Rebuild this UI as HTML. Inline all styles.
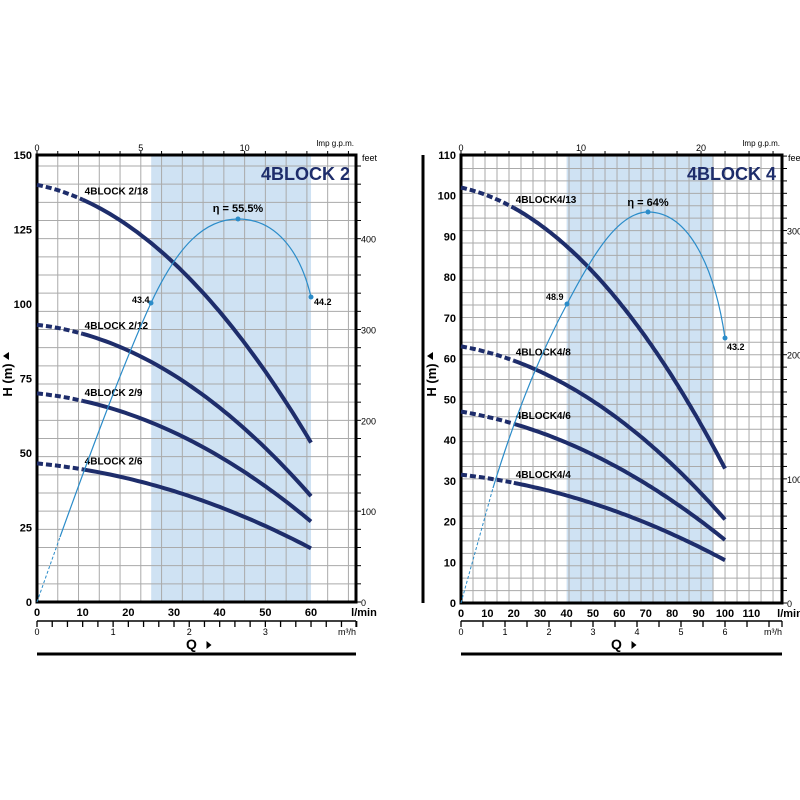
<!DOCTYPE html>
<html><head><meta charset="utf-8">
<style>
html,body{margin:0;padding:0;background:#fff;}
svg{display:block;font-family:"Liberation Sans",sans-serif;}
</style></head><body>
<svg id="s" width="800" height="800" viewBox="0 0 800 800" xmlns="http://www.w3.org/2000/svg"></svg>
<script>
const S=document.getElementById('s');let h='';
const NAVY='#1e2d6b',EFF='#2b8cc9';
function chart(o){
  const X=q=>o.x0+q*o.kx, Y=m=>o.yb-m*o.ky;
  h+=`<rect x="${X(o.sh[0])}" y="${o.yt}" width="${X(o.sh[1])-X(o.sh[0])}" height="${o.yb-o.yt}" fill="#cfe2f3"/>`;
  const g=4.546*o.kx;
  for(let x=o.x0+g;x<o.x1-1;x+=g) h+=`<line x1="${x}" y1="${o.yt}" x2="${x}" y2="${o.yb}" stroke="#aaa" stroke-width="1"/>`;
  const f=o.ftstep*0.3048*o.ky;
  for(let y=o.yb-f;y>o.yt+1;y-=f) h+=`<line x1="${o.x0}" y1="${y}" x2="${o.x1}" y2="${y}" stroke="#aaa" stroke-width="1"/>`;
  h+=`<rect x="${o.x0}" y="${o.yt}" width="${o.x1-o.x0}" height="${o.yb-o.yt}" fill="none" stroke="#000" stroke-width="3"/>`;
  let n=0;for(let y=o.yb;y>o.yt+1;y-=f,n++){h+=`<line x1="${o.x1}" y1="${y}" x2="${o.x1+5}" y2="${y}" stroke="#000" stroke-width="1"/>`;
    const v=n*o.ftstep; if(v%100==0) h+=`<text x="${o.x1+5}" y="${y+4}" font-size="9" font-family="Liberation Sans Narrow,Liberation Sans">${v}</text>`;}
  h+=`<text x="${o.x1+6}" y="${o.yt+6}" font-size="9">feet</text>`;
  for(let i=0;X(i*4.546)<o.x1-2;i+=o.gstep){const x=X(i*4.546);h+=`<line x1="${x}" y1="${o.yt}" x2="${x}" y2="${o.yt-4}" stroke="#000" stroke-width="1"/>`;
    if(i%o.glab==0 && X(i*4.546)<o.x1-30)h+=`<text x="${x}" y="${o.yt-4}" font-size="9" text-anchor="middle">${i}</text>`;}
  h+=`<text x="${o.x1-2}" y="${o.yt-9}" font-size="8" text-anchor="end">Imp g.p.m.</text>`;
  o.yl.forEach(v=>h+=`<text x="${o.x0-5}" y="${Y(v)+4}" font-size="11" font-weight="bold" text-anchor="end">${v}</text>`);
  o.xl.forEach(v=>h+=`<text x="${X(v)}" y="${o.yb+14}" font-size="11" font-weight="bold" text-anchor="middle">${v}</text>`);
  h+=`<text x="${o.x1+8}" y="${o.yb+14}" font-size="11" font-weight="bold" text-anchor="middle">l/min</text>`;
  const my=621;h+=`<line x1="${o.x0}" y1="${my}" x2="${o.x1}" y2="${my}" stroke="#000" stroke-width="1.5"/>`;
  const ms=o.mstep, per=Math.round(1/ms);
  for(let i=0;X(i*ms*16.667)<=o.x1+1;i++){const x=X(i*ms*16.667);h+=`<line x1="${x}" y1="${my}" x2="${x}" y2="${my+6}" stroke="#000" stroke-width="1.3"/>`;
    if(i%per==0 && x<o.x1-25)h+=`<text x="${x}" y="${my+14}" font-size="9" text-anchor="middle">${i/per}</text>`;}
  h+=`<line x1="${o.x1}" y1="${my}" x2="${o.x1}" y2="${my+6}" stroke="#000" stroke-width="1.3"/>`;
  h+=`<text x="${o.x1}" y="${my+14}" font-size="9" text-anchor="end">m³/h</text>`;
  h+=`<text x="${(o.x0+o.x1)/2-5}" y="649" font-size="14" font-weight="bold" text-anchor="middle">Q</text><path d="M${(o.x0+o.x1)/2+10} 641 l5 4 l-5 4z" fill="#000"/>`;
  h+=`<line x1="${o.x0}" y1="654" x2="${o.x1}" y2="654" stroke="#000" stroke-width="3"/>`;
  h+=`<g transform="translate(${o.hx},380) rotate(-90)"><text x="0" y="0" font-size="13" font-weight="bold" text-anchor="middle">H (m)</text><path d="M24 -9 l4 6 h-8z" fill="#000"/></g>`;
  h+=`<text x="${o.x1-6}" y="${o.yt+25}" font-size="18" font-weight="bold" fill="${NAVY}" text-anchor="end">${o.title}</text>`;
  o.curves.forEach(c=>{const [a,b,q2,qd,name]=c;
    const Hq=q=>a - c[5]*q - c[6]*q*q;
    let d='',s='';for(let q=0;q<=qd;q+=1)d+=(q?'L':'M')+X(q).toFixed(1)+' '+Y(Hq(q)).toFixed(1);
    for(let q=qd;q<=q2+0.01;q+=1)s+=(q==qd?'M':'L')+X(q).toFixed(1)+' '+Y(Hq(q)).toFixed(1);
    h+=`<path d="${d}" fill="none" stroke="${NAVY}" stroke-width="4" stroke-dasharray="6 3"/>`;
    h+=`<path d="${s}" fill="none" stroke="${NAVY}" stroke-width="4"/>`;
    h+=`<text x="${X(qd)+2}" y="${Y(Hq(qd))-5}" font-size="10" font-weight="bold" font-family="Liberation Sans Narrow,Liberation Sans">${name}</text>`;});
  const e=o.eff;
  h+=`<path d="M${o.x0} ${o.yb} L${e.d[0]} ${e.d[1]}" stroke="${EFF}" stroke-width="1" stroke-dasharray="3 2" fill="none"/>`;
  h+=`<path d="${e.path}" stroke="${EFF}" stroke-width="1.2" fill="none"/>`;
  e.pts.forEach(p=>{h+=`<circle cx="${p[0]}" cy="${p[1]}" r="2.5" fill="${EFF}"/>`;h+=`<text x="${p[0]+p[3]}" y="${p[1]+p[4]}" font-size="${p[5]||9}" font-weight="bold" text-anchor="${p[6]||'start'}">${p[2]}</text>`;});
}
function coef(a,h10,q1,h1,Q,HQ){const A=a-h1,B=a-HQ; const b=(B-A*Q/q1)/(Q*Q-q1*Q); const c=(A-b*q1*q1)/q1; return [c,b];}
function C(a,q1,h1,Q,HQ,qd,name){const [c,b]=coef(a,0,q1,h1,Q,HQ);return [a,0,Q,qd,name,c,b];}
chart({x0:37,x1:356,yt:155,yb:602,kx:4.567,ky:2.98,ftstep:20,sh:[25,60],hx:12,title:'4BLOCK 2',gstep:1,glab:5,mstep:0.2,
 yl:[0,25,50,75,100,125,150],xl:[0,10,20,30,40,50,60],
 curves:[C(140,10,135,60,53.5,10,'4BLOCK 2/18'),C(93,10,90,60,35.5,10,'4BLOCK 2/12'),C(70,10,67.5,60,27,10,'4BLOCK 2/9'),C(46.5,10,44.5,60,18,10,'4BLOCK 2/6')],
 eff:{d:[60,537],path:'M60 537 C 95 440, 125 360, 151 303 C 178 245, 205 219, 238 219 C 275 219, 300 250, 311 297',
  pts:[[151,303,'43.4',-19,0,9,'start'],[238,219,'η = 55.5%',0,-7,11,'middle'],[311,297,'44.2',3,8,9,'start']]}});
chart({x0:461,x1:782,yt:155,yb:603,kx:2.64,ky:4.073,ftstep:10,sh:[40,95.5],hx:436,title:'4BLOCK 4',gstep:2,glab:10,mstep:0.5,
 yl:[0,10,20,30,40,50,60,70,80,90,100,110],xl:[0,10,20,30,40,50,60,70,80,90,100,110],
 curves:[C(102,20,97,100,33,20,'4BLOCK4/13'),C(63,20,59.5,100,20.5,20,'4BLOCK4/8'),C(47,20,44,100,15.5,20,'4BLOCK4/6'),C(31.5,20,29.5,100,10.5,20,'4BLOCK4/4')],
 eff:{d:[493,488],path:'M493 488 C 520 400, 545 345, 567 304 C 595 250, 620 212, 648 212 C 690 212, 715 270, 725 338',
  pts:[[567,304,'48.9',-21,-4,9,'start'],[648,212,'η = 64%',0,-6,11,'middle'],[725,338,'43.2',2,12,9,'start']]}});
h+=`<line x1="423" y1="155" x2="423" y2="603" stroke="#000" stroke-width="3"/>`;
S.innerHTML=h;
</script>
</body></html>
